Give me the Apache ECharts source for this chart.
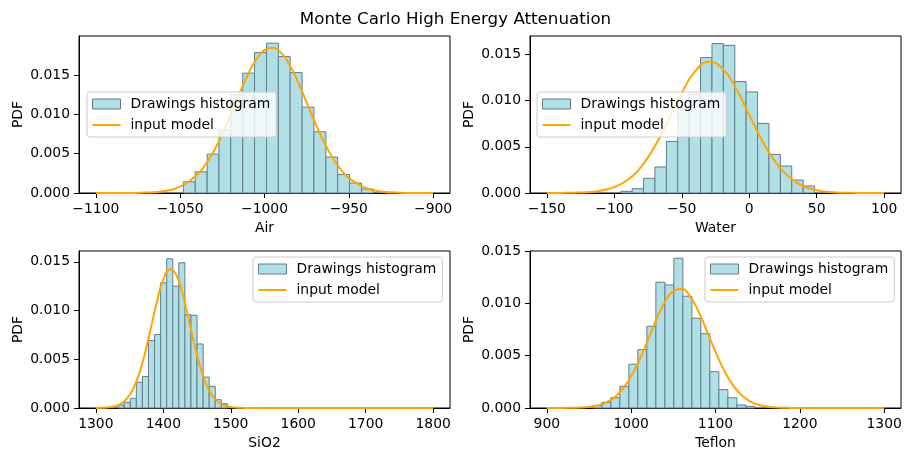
<!DOCTYPE html>
<html>
<head>
<meta charset="utf-8">
<title>Monte Carlo High Energy Attenuation</title>
<script src="https://cdn.jsdelivr.net/npm/echarts@6/dist/echarts.min.js"></script>
<style>
html, body { margin: 0; padding: 0; background: #fff; }
#chart { width: 911px; height: 461px; }
</style>
</head>
<body>
<div id="chart"></div>
<script>
// histogram bin edges + density
const airEdges = [-1048.1, -1041.1, -1034.0, -1027.0, -1020.0, -1012.9, -1005.9, -998.8, -991.8, -984.8, -977.7, -970.7, -963.6, -956.6, -949.6, -942.5, -935.5]
const airDensity = [0.00143, 0.0027, 0.00495, 0.00803, 0.0125, 0.01523, 0.01784, 0.01904, 0.01734, 0.0153, 0.01091, 0.00778, 0.00457, 0.00236, 0.00127, 0.00051]
const waterEdges = [-95.2, -86.8, -78.3, -69.9, -61.4, -53.0, -44.5, -36.1, -27.6, -19.2, -10.7, -2.3, 6.2, 14.6, 23.1, 31.5, 40.0, 48.4]
const waterDensity = [0.00018, 0.00046, 0.00159, 0.00281, 0.00558, 0.0092, 0.0107, 0.01465, 0.01617, 0.01598, 0.01206, 0.01094, 0.00753, 0.00418, 0.00292, 0.0014, 0.00076]
const sio2Edges = [1333, 1342, 1351, 1360, 1369, 1378, 1387, 1396, 1405, 1414, 1423, 1432, 1441, 1450, 1459, 1468, 1477, 1486, 1495]
const sio2Density = [0.00031, 0.00058, 0.00099, 0.00263, 0.00324, 0.00692, 0.00754, 0.01285, 0.01531, 0.0125, 0.0149, 0.00958, 0.00951, 0.00657, 0.00317, 0.00222, 0.00085, 0.00044]
const teflonEdges = [954.6, 965.3, 975.9, 986.6, 997.3, 1007.9, 1018.6, 1029.3, 1040.0, 1050.6, 1061.3, 1072.0, 1082.6, 1093.3, 1104.0, 1114.7, 1125.3, 1136.0, 1146.7]
const teflonDensity = [0.00022, 0.00054, 0.00098, 0.00207, 0.00418, 0.00557, 0.00781, 0.01202, 0.01176, 0.01431, 0.01068, 0.00858, 0.0071, 0.00347, 0.00175, 0.00098, 0.00029, 0.00016]

// input model curves (orange)
const airCurveX = [-1100, -1090, -1080, -1070, -1060, -1050, -1040, -1035, -1030, -1025, -1020, -1015, -1010, -1005, -1000, -995, -990, -985, -980, -975, -970, -965, -960, -955, -950, -940, -930, -920, -910, -900]
const airCurveY = [0, 0, 0.00001, 0.00005, 0.00023, 0.00081, 0.00232, 0.00362, 0.00535, 0.0075, 0.00996, 0.01254, 0.01497, 0.01694, 0.01816, 0.01845, 0.01777, 0.01622, 0.01404, 0.01151, 0.00895, 0.0066, 0.00461, 0.00305, 0.00191, 0.00064, 0.00017, 0.00004, 0.00001, 0]
const waterCurveX = [-150, -140, -130, -120, -110, -100, -90, -80, -70, -60, -50, -40, -30, -20, -10, 0, 10, 20, 30, 40, 50, 60, 70, 80, 90, 100]
const waterCurveY = [0, 0.00001, 0.00003, 0.00009, 0.00025, 0.00064, 0.00144, 0.00286, 0.00505, 0.00786, 0.01082, 0.01318, 0.01419, 0.01351, 0.01137, 0.00846, 0.00557, 0.00324, 0.00167, 0.00076, 0.0003, 0.00011, 0.00003, 0.00001, 0, 0]
const sio2CurveX = [1300, 1310, 1320, 1330, 1340, 1350, 1360, 1370, 1380, 1390, 1400, 1410, 1420, 1430, 1440, 1450, 1460, 1470, 1480, 1490, 1500, 1510, 1520, 1530, 1550, 1600, 1650, 1700, 1750, 1800]
const sio2CurveY = [0.00001, 0.00002, 0.00007, 0.00022, 0.00057, 0.00133, 0.00271, 0.00488, 0.00772, 0.01076, 0.01319, 0.01424, 0.01353, 0.01132, 0.00833, 0.0054, 0.00308, 0.00155, 0.00068, 0.00027, 0.00009, 0.00003, 0.00001, 0, 0, 0, 0, 0, 0, 0]
const teflonCurveX = [900, 910, 920, 930, 940, 950, 960, 970, 980, 990, 1000, 1010, 1020, 1030, 1040, 1050, 1060, 1070, 1080, 1090, 1100, 1110, 1120, 1130, 1140, 1150, 1160, 1170, 1180, 1190, 1200, 1250, 1300]
const teflonCurveY = [0, 0, 0.00001, 0.00002, 0.00004, 0.00011, 0.00025, 0.00052, 0.00101, 0.00183, 0.00303, 0.00463, 0.00652, 0.00847, 0.01013, 0.01117, 0.01136, 0.01064, 0.00919, 0.00731, 0.00536, 0.00362, 0.00226, 0.0013, 0.00069, 0.00033, 0.00015, 0.00006, 0.00002, 0.00001, 0, 0, 0]

// tick labels
const airTicks = [-1100, -1050, -1000, -950, -900]
const waterTicks = [-150, -100, -50, 0, 50, 100]
const sio2Ticks = [1300, 1400, 1500, 1600, 1700, 1800]
const teflonTicks = [900, 1000, 1100, 1200, 1300]
const pdfTicks = [0, 0.005, 0.01, 0.015]

const barColor = '#b0e0e6'
const edgeColor = '#647c8c'
const lineColor = '#ffa500'
const font = 'DejaVu Sans'
// legend handle for the line: thin bar kept in a 28x10 box
const lineIcon = 'path://M0,0 M28,10 M0,4 L28,4 L28,6 L0,6 Z'

const panels = [
    {name: 'Air', edges: airEdges, density: airDensity, cx: airCurveX, cy: airCurveY, ticks: airTicks,
        xMin: -1110, xMax: -890, yMax: 0.01995, left: 79, top: 36, legLeft: 87, legTop: 92},
    {name: 'Water', edges: waterEdges, density: waterDensity, cx: waterCurveX, cy: waterCurveY, ticks: waterTicks,
        xMin: -162.5, xMax: 112.5, yMax: 0.01699, left: 530, top: 36, legLeft: 537, legTop: 92},
    {name: 'SiO2', edges: sio2Edges, density: sio2Density, cx: sio2CurveX, cy: sio2CurveY, ticks: sio2Ticks,
        xMin: 1275, xMax: 1825, yMax: 0.01611, left: 79, top: 251, legLeft: 253, legTop: 257},
    {name: 'Teflon', edges: teflonEdges, density: teflonDensity, cx: teflonCurveX, cy: teflonCurveY, ticks: teflonTicks,
        xMin: 880, xMax: 1320, yMax: 0.015, left: 530, top: 251, legLeft: 705, legTop: 257}
]

function renderBar(params, api) {
    const p0 = api.coord([api.value(0), api.value(2)])
    const p1 = api.coord([api.value(1), 0])
    return {
        type: 'rect',
        shape: {x: p0[0], y: p0[1], width: p1[0] - p0[0], height: p1[1] - p0[1]},
        style: {fill: barColor, stroke: edgeColor, lineWidth: 1}
    }
}

function fmtX(v) {
    return v < 0 ? '\u2212' + Math.abs(v) : String(v)
}

const chart = echarts.init(document.getElementById('chart'), null, {renderer: 'canvas'})

const grid = [], xAxis = [], yAxis = [], series = [], legend = []
const labelStyle = {color: '#000', fontSize: 13.9, fontFamily: font}

panels.forEach((p, i) => {
    grid.push({left: p.left, top: p.top, width: 371, height: 157, show: true, borderColor: '#000', borderWidth: 1, backgroundColor: 'transparent'})
    xAxis.push({
        type: 'value', gridIndex: i, min: p.xMin, max: p.xMax,
        name: p.name, nameLocation: 'middle', nameGap: 28, nameTextStyle: labelStyle,
        axisLine: {show: true, onZero: false, lineStyle: {color: '#000', width: 1}},
        axisTick: {show: true, customValues: p.ticks, length: 5, lineStyle: {color: '#000'}},
        axisLabel: Object.assign({customValues: p.ticks, margin: 9, formatter: fmtX}, labelStyle),
        splitLine: {show: false}
    })
    yAxis.push({
        type: 'value', gridIndex: i, min: 0, max: p.yMax,
        name: 'PDF', nameLocation: 'middle', nameGap: 54, nameTextStyle: labelStyle,
        axisLine: {show: true, onZero: false, lineStyle: {color: '#000', width: 1}},
        axisTick: {show: true, customValues: pdfTicks, length: 5, lineStyle: {color: '#000'}},
        axisLabel: Object.assign({customValues: pdfTicks, margin: 9, formatter: v => v.toFixed(3)}, labelStyle),
        splitLine: {show: false}
    })
    const bins = p.density.map((d, k) => [p.edges[k], p.edges[k + 1], d])
    series.push({
        type: 'custom', name: 'Drawings histogram', xAxisIndex: i, yAxisIndex: i,
        renderItem: renderBar, encode: {x: [0, 1], y: 2}, data: bins, z: 2,
        itemStyle: {color: barColor, borderColor: edgeColor, borderWidth: 1}
    })
    series.push({
        type: 'line', name: 'input model', xAxisIndex: i, yAxisIndex: i,
        data: p.cx.map((x, k) => [x, p.cy[k]]),
        showSymbol: false, symbol: 'none', smooth: 0.5, z: 3,
        lineStyle: {color: lineColor, width: 2}, itemStyle: {color: lineColor}
    })
    legend.push({
        orient: 'vertical', left: p.legLeft, top: p.legTop,
        itemWidth: 28, itemHeight: 10, itemGap: 7,
        padding: [5, 6, 5, 5],
        backgroundColor: 'rgba(255,255,255,0.8)', borderColor: '#cccccc', borderWidth: 1, borderRadius: 3,
        textStyle: {color: '#000', fontSize: 13.9, fontFamily: font, padding: [0, 0, 0, 5]},
        selectedMode: false,
        data: [
            {name: 'Drawings histogram', icon: 'rect', itemStyle: {color: barColor, borderColor: edgeColor, borderWidth: 1}},
            {name: 'input model', icon: lineIcon, itemStyle: {color: lineColor, borderWidth: 0}}
        ]
    })
})

chart.setOption({
    animation: false,
    title: {text: 'Monte Carlo High Energy Attenuation', left: 'center', top: 6,
        textStyle: {color: '#000', fontSize: 16.7, fontWeight: 'normal', fontFamily: font}},
    grid: grid,
    xAxis: xAxis,
    yAxis: yAxis,
    legend: legend,
    series: series
})
</script>
</body>
</html>
